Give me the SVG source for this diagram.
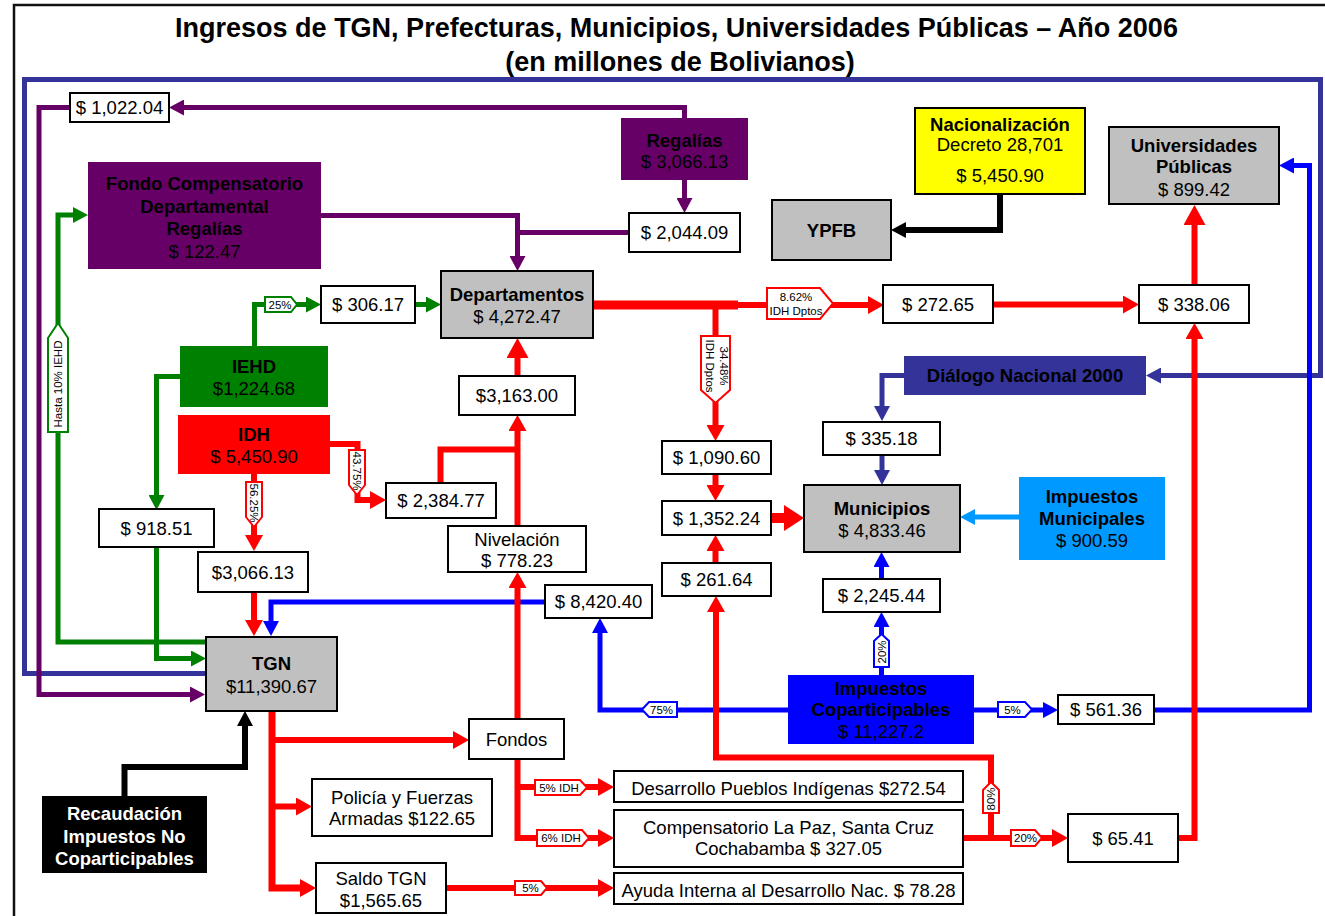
<svg xmlns="http://www.w3.org/2000/svg" width="1325" height="916" viewBox="0 0 1325 916">
  <style>
    .c { fill: none; stroke-width: 5; stroke-linejoin: miter; stroke-linecap: butt; }
    .red { stroke: #ff0000; stroke-width: 6; }
    .grn { stroke: #008000; }
    .pur { stroke: #660066; }
    .nav { stroke: #333399; }
    .blu { stroke: #0000ff; }
    .blk { stroke: #000000; stroke-width: 6; }
    .sky { stroke: #0099ff; }
    .bx { fill: #ffffff; stroke: #000000; stroke-width: 2; }
    .gray { fill: #c0c0c0; stroke: #000000; stroke-width: 2; }
    .t { font-family: "Liberation Sans", Arial, sans-serif; font-size: 18.5px; text-anchor: middle; fill: #000000; }
    .b { font-weight: bold; }
    .w { fill: #ffffff; }
    .tag { fill: #ffffff; stroke-width: 2; }
    .tr { stroke: #ff0000; }
    .tgg { stroke: #008000; }
    .tb { stroke: #0000ff; }
    .lt { font-family: "Liberation Sans", Arial, sans-serif; font-size: 11.5px; text-anchor: middle; fill: #000000; }
    .title { font-family: "Liberation Sans", Arial, sans-serif; font-size: 27px; font-weight: bold; text-anchor: middle; fill: #000000; }
  </style>
  <defs>
    <marker id="a-red" markerUnits="userSpaceOnUse" markerWidth="16" markerHeight="18" viewBox="0 0 16 18" refX="7" refY="9" orient="auto"><path d="M0,0 L16,9 L0,18 z" fill="#ff0000"/></marker>
    <marker id="a-red-lg" markerUnits="userSpaceOnUse" markerWidth="20" markerHeight="22" viewBox="0 0 20 22" refX="11" refY="11" orient="auto"><path d="M0,0 L20,11 L0,22 z" fill="#ff0000"/></marker>
    <marker id="a-red-xl" markerUnits="userSpaceOnUse" markerWidth="20" markerHeight="26" viewBox="0 0 20 26" refX="11" refY="13" orient="auto"><path d="M0,0 L20,13 L0,26 z" fill="#ff0000"/></marker>
    <marker id="a-grn" markerUnits="userSpaceOnUse" markerWidth="15" markerHeight="16" viewBox="0 0 15 16" refX="6" refY="8" orient="auto"><path d="M0,0 L15,8 L0,16 z" fill="#008000"/></marker>
    <marker id="a-pur" markerUnits="userSpaceOnUse" markerWidth="15" markerHeight="16" viewBox="0 0 15 16" refX="6" refY="8" orient="auto"><path d="M0,0 L15,8 L0,16 z" fill="#660066"/></marker>
    <marker id="a-nav" markerUnits="userSpaceOnUse" markerWidth="15" markerHeight="16" viewBox="0 0 15 16" refX="6" refY="8" orient="auto"><path d="M0,0 L15,8 L0,16 z" fill="#333399"/></marker>
    <marker id="a-blu" markerUnits="userSpaceOnUse" markerWidth="15" markerHeight="16" viewBox="0 0 15 16" refX="6" refY="8" orient="auto"><path d="M0,0 L15,8 L0,16 z" fill="#0000ff"/></marker>
    <marker id="a-blk" markerUnits="userSpaceOnUse" markerWidth="15" markerHeight="16" viewBox="0 0 15 16" refX="6" refY="8" orient="auto"><path d="M0,0 L15,8 L0,16 z" fill="#000000"/></marker>
    <marker id="a-sky" markerUnits="userSpaceOnUse" markerWidth="15" markerHeight="16" viewBox="0 0 15 16" refX="6" refY="8" orient="auto"><path d="M0,0 L15,8 L0,16 z" fill="#0099ff"/></marker>
  </defs>

  <rect width="1325" height="916" fill="#ffffff"/>
  <!-- outer frame -->
  <path d="M14,916 V5 H1325" fill="none" stroke="#111111" stroke-width="2.5"/>

  <!-- title -->
  <text class="title" x="676.5" y="37">Ingresos de TGN, Prefecturas, Municipios, Universidades Públicas – Año 2006</text>
  <text class="title" x="680" y="71">(en millones de Bolivianos)</text>

  <g id="connectors">
    <!-- Diálogo Nacional loop -->
    <path class="c nav" d="M206,673.5 H24.5 V79.5 H1320.5 V375.5 H1155" marker-end="url(#a-nav)"/>
    <path class="c nav" d="M904,375.5 H882 V412" marker-end="url(#a-nav)"/>
    <path class="c nav" d="M882,455 V476" marker-end="url(#a-nav)"/>

    <!-- Regalías -->
    <path class="c pur" d="M684.5,118 V107.5 H178" marker-end="url(#a-pur)"/>
    <path class="c pur" d="M70,107.5 H39 V694.5 H196" marker-end="url(#a-pur)"/>
    <path class="c pur" d="M684.5,180 V204" marker-end="url(#a-pur)"/>
    <path class="c pur" d="M629,232.5 H517.5"/>
    <path class="c pur" d="M321,215.5 H517.5 V262" marker-end="url(#a-pur)"/>

    <!-- IEHD -->
    <path class="c grn" d="M206,642 H58 V215 H79" marker-end="url(#a-grn)"/>
    <path class="c grn" d="M180,376.5 H156.5 V501" marker-end="url(#a-grn)"/>
    <path class="c grn" d="M156.5,547 V658.5 H197" marker-end="url(#a-grn)"/>
    <path class="c grn" d="M254.5,346 V304.5 H312" marker-end="url(#a-grn)"/>
    <path class="c grn" d="M415,304.5 H432" marker-end="url(#a-grn)"/>

    <!-- Coparticipación -->
    <path class="c blu" d="M545,602 H271 V627" marker-end="url(#a-blu)"/>
    <path class="c blu" d="M788,710 H600 V627" marker-end="url(#a-blu)"/>
    <path class="c blu" d="M881.5,675 V621" marker-end="url(#a-blu)"/>
    <path class="c blu" d="M881.5,579 V561" marker-end="url(#a-blu)"/>
    <path class="c blu" d="M974,710 H1049" marker-end="url(#a-blu)"/>
    <path class="c blu" d="M1154,710 H1309.5 V165.5 H1288" marker-end="url(#a-blu)"/>

    <!-- black flows -->
    <path class="c blk" d="M1000,194 V230 H900" marker-end="url(#a-blk)"/>
    <path class="c blk" d="M124.5,796 V767 H245 V720" marker-end="url(#a-blk)"/>

    <!-- Impuestos Municipales -->
    <path class="c sky" d="M1019,517 H969" marker-end="url(#a-sky)"/>

    <!-- IDH and red flows -->
    <path class="c red" d="M330,444 H357.5 V500 H377" marker-end="url(#a-red)"/>
    <path class="c red" d="M254,474 V542" marker-end="url(#a-red)"/>
    <path class="c red" d="M254,592 V627" marker-end="url(#a-red)"/>
    <path class="c red" d="M440.5,483 V449.5 H517.5"/>
    <path class="c red" d="M517.5,526 V424" marker-end="url(#a-red)"/>
    <path class="c red" d="M517.5,376 V347" marker-end="url(#a-red-lg)"/>
    <path class="c red" d="M517.5,719 V581" marker-end="url(#a-red)"/>
    <path class="c red" d="M593,305 H738" style="stroke-width:9"/>
    <path class="c red" d="M735,305 H875" marker-end="url(#a-red)"/>
    <path class="c red" d="M715.5,305 V432" marker-end="url(#a-red)"/>
    <path class="c red" d="M993,304.5 H1130" marker-end="url(#a-red)"/>
    <path class="c red" d="M1194.5,285 V214" marker-end="url(#a-red-lg)"/>
    <path class="c red" d="M715.5,474 V492" marker-end="url(#a-red)"/>
    <path class="c red" d="M715.5,563 V544" marker-end="url(#a-red)"/>
    <path class="c red" d="M771,518 H795" style="stroke-width:10" marker-end="url(#a-red-xl)"/>
    <path class="c red" d="M963,838 H1059" marker-end="url(#a-red)"/>
    <path class="c red" d="M991,838 V757.5 H716 V605" marker-end="url(#a-red)"/>
    <path class="c red" d="M1178,838 H1194.5 V332" marker-end="url(#a-red)"/>
    <path class="c red" d="M272,711 V888 H307" style="stroke-width:7" marker-end="url(#a-red)"/>
    <path class="c red" d="M272,740 H460" marker-end="url(#a-red)"/>
    <path class="c red" d="M272,806.5 H303" marker-end="url(#a-red)"/>
    <path class="c red" d="M517.5,759 V838 H605" marker-end="url(#a-red)"/>
    <path class="c red" d="M517.5,787 H605" marker-end="url(#a-red)"/>
    <path class="c red" d="M446,888 H605" marker-end="url(#a-red)"/>

    <!-- flow share tags -->
    <g id="tags">
      <polygon class="tag tr" points="767,288 820,288 833,303.5 820,319 767,319"/>
      <text class="lt" x="796" y="300.5">8.62%</text>
      <text class="lt" x="796" y="314.5">IDH Dptos</text>

      <polygon class="tag tr" points="701,336 730,336 730,390 715.5,403 701,390"/>
      <g transform="translate(715.5,366) rotate(90)">
        <text class="lt" x="0" y="-4">34.48%</text>
        <text class="lt" x="0" y="9.5">IDH Dptos</text>
      </g>

      <polygon class="tag tgg" points="265,297 291,297 297,304.5 291,312 265,312"/>
      <text class="lt" x="280" y="308.5">25%</text>

      <polygon class="tag tgg" points="48,338 58,323 68,338 68,432 48,432"/>
      <text class="lt" transform="translate(58,384) rotate(-90)" x="0" y="4">Hasta 10% IEHD</text>

      <polygon class="tag tr" points="349,450 365,450 365,485 357,495 349,485"/>
      <text class="lt" transform="translate(357,471) rotate(90)" x="0" y="4">43.75%</text>

      <polygon class="tag tr" points="246,482 262,482 262,517 254,527 246,517"/>
      <text class="lt" transform="translate(254,503) rotate(90)" x="0" y="4">56.25%</text>

      <polygon class="tag tr" points="535,780 580,780 587,787.5 580,795 535,795"/>
      <text class="lt" x="559" y="791.5">5% IDH</text>

      <polygon class="tag tr" points="537,830 582,830 589,838 582,846 537,846"/>
      <text class="lt" x="561" y="842">6% IDH</text>

      <polygon class="tag tr" points="515,881 541,881 547,888 541,895 515,895"/>
      <text class="lt" x="530.5" y="892">5%</text>

      <polygon class="tag tr" points="1011,830 1035,830 1042,838 1035,846 1011,846"/>
      <text class="lt" x="1025.5" y="842">20%</text>

      <polygon class="tag tr" points="983,790 991,782 999,790 999,813 983,813"/>
      <text class="lt" transform="translate(991,799) rotate(-90)" x="0" y="4">80%</text>

      <polygon class="tag tb" points="649,702 677,702 677,717 649,717 642,709.5"/>
      <text class="lt" x="661.5" y="714">75%</text>

      <polygon class="tag tb" points="874,641 881.5,634 889,641 889,667 874,667"/>
      <text class="lt" transform="translate(881.5,652) rotate(-90)" x="0" y="4">20%</text>

      <polygon class="tag tb" points="998,702 1025,702 1032,709.5 1025,717 998,717"/>
      <text class="lt" x="1012.5" y="714">5%</text>
    </g>
  </g>

  <!-- nodes -->
  <g id="fondo-compensatorio">
    <rect x="88" y="162" width="233" height="107" fill="#660066"/>
    <text class="t b" x="204.5" y="190">Fondo Compensatorio</text>
    <text class="t b" x="204.5" y="212.5">Departamental</text>
    <text class="t b" x="204.5" y="235">Regalías</text>
    <text class="t" x="204.5" y="257.5">$ 122.47</text>
  </g>
  <g id="regalias">
    <rect x="621" y="118" width="127" height="62" fill="#660066"/>
    <text class="t b" x="684.5" y="147">Regalías</text>
    <text class="t" x="684.5" y="168">$ 3,066.13</text>
  </g>
  <g id="v1022">
    <rect class="bx" x="70" y="93" width="99" height="29"/>
    <text class="t" x="119.5" y="114">$ 1,022.04</text>
  </g>
  <g id="v2044">
    <rect class="bx" x="629" y="213" width="111" height="39"/>
    <text class="t" x="684.5" y="239">$ 2,044.09</text>
  </g>
  <g id="ypfb">
    <rect class="gray" x="772" y="200" width="119" height="60"/>
    <text class="t b" x="831.5" y="236.5">YPFB</text>
  </g>
  <g id="nacionalizacion">
    <rect x="915" y="108" width="170" height="86" fill="#ffff00" stroke="#000000" stroke-width="2"/>
    <text class="t b" x="1000" y="131">Nacionalización</text>
    <text class="t" x="1000" y="151">Decreto 28,701</text>
    <text class="t" x="1000" y="182">$ 5,450.90</text>
  </g>
  <g id="universidades">
    <rect class="gray" x="1109" y="127" width="170" height="77"/>
    <text class="t b" x="1194" y="152">Universidades</text>
    <text class="t b" x="1194" y="173">Públicas</text>
    <text class="t" x="1194" y="196">$ 899.42</text>
  </g>
  <g id="departamentos">
    <rect class="gray" x="441" y="271" width="152" height="67"/>
    <text class="t b" x="517" y="301">Departamentos</text>
    <text class="t" x="517" y="323">$ 4,272.47</text>
  </g>
  <g id="v306">
    <rect class="bx" x="321" y="286" width="94" height="37"/>
    <text class="t" x="368" y="311">$ 306.17</text>
  </g>
  <g id="v272">
    <rect class="bx" x="883" y="285" width="110" height="38"/>
    <text class="t" x="938" y="310.5">$ 272.65</text>
  </g>
  <g id="v338">
    <rect class="bx" x="1139" y="285" width="110" height="38"/>
    <text class="t" x="1194" y="310.5">$ 338.06</text>
  </g>
  <g id="dialogo">
    <rect x="904" y="356" width="242" height="39" fill="#333399"/>
    <text class="t b" x="1025" y="382">Diálogo Nacional 2000</text>
  </g>
  <g id="v335">
    <rect class="bx" x="823" y="422" width="117" height="33"/>
    <text class="t" x="881.5" y="445">$ 335.18</text>
  </g>
  <g id="municipios">
    <rect class="gray" x="804" y="485" width="156" height="67"/>
    <text class="t b" x="882" y="514.5">Municipios</text>
    <text class="t" x="882" y="537">$ 4,833.46</text>
  </g>
  <g id="impuestos-municipales">
    <rect x="1019" y="477" width="146" height="83" fill="#0099ff"/>
    <text class="t b" x="1092" y="503">Impuestos</text>
    <text class="t b" x="1092" y="525">Municipales</text>
    <text class="t" x="1092" y="547">$ 900.59</text>
  </g>
  <g id="iehd">
    <rect x="180" y="346" width="148" height="61" fill="#008000"/>
    <text class="t b" x="254" y="373">IEHD</text>
    <text class="t" x="254" y="395">$1,224.68</text>
  </g>
  <g id="idh">
    <rect x="178" y="415" width="152" height="59" fill="#ff0000"/>
    <text class="t b" x="254" y="441">IDH</text>
    <text class="t" x="254" y="463">$ 5,450.90</text>
  </g>
  <g id="v918">
    <rect class="bx" x="99" y="509" width="115" height="38"/>
    <text class="t" x="156.5" y="534.5">$ 918.51</text>
  </g>
  <g id="v3066">
    <rect class="bx" x="198" y="552" width="110" height="40"/>
    <text class="t" x="253" y="578.5">$3,066.13</text>
  </g>
  <g id="v2384">
    <rect class="bx" x="386" y="483" width="110" height="35"/>
    <text class="t" x="441" y="507">$ 2,384.77</text>
  </g>
  <g id="v3163">
    <rect class="bx" x="459" y="376" width="116" height="39"/>
    <text class="t" x="517" y="402">$3,163.00</text>
  </g>
  <g id="nivelacion">
    <rect class="bx" x="448" y="526" width="138" height="46"/>
    <text class="t" x="517" y="546">Nivelación</text>
    <text class="t" x="517" y="567">$ 778.23</text>
  </g>
  <g id="v8420">
    <rect class="bx" x="545" y="585" width="107" height="33"/>
    <text class="t" x="598.5" y="608">$ 8,420.40</text>
  </g>
  <g id="v1090">
    <rect class="bx" x="662" y="441" width="109" height="33"/>
    <text class="t" x="716.5" y="464">$ 1,090.60</text>
  </g>
  <g id="v1352">
    <rect class="bx" x="662" y="501" width="109" height="34"/>
    <text class="t" x="716.5" y="524.5">$ 1,352.24</text>
  </g>
  <g id="v261">
    <rect class="bx" x="662" y="563" width="109" height="33"/>
    <text class="t" x="716.5" y="586">$ 261.64</text>
  </g>
  <g id="v2245">
    <rect class="bx" x="823" y="579" width="117" height="33"/>
    <text class="t" x="881.5" y="602">$ 2,245.44</text>
  </g>
  <g id="impuestos-coparticipables">
    <rect x="788" y="675" width="186" height="69" fill="#0000ff"/>
    <text class="t b" x="881" y="695">Impuestos</text>
    <text class="t b" x="881" y="716">Coparticipables</text>
    <text class="t" x="881" y="738">$ 11,227.2</text>
  </g>
  <g id="v561">
    <rect class="bx" x="1058" y="695" width="96" height="29"/>
    <text class="t" x="1106" y="716">$ 561.36</text>
  </g>
  <g id="tgn">
    <rect class="gray" x="206" y="637" width="131" height="74"/>
    <text class="t b" x="271.5" y="670">TGN</text>
    <text class="t" x="271.5" y="693">$11,390.67</text>
  </g>
  <g id="recaudacion">
    <rect x="42" y="796" width="165" height="77" fill="#000000"/>
    <text class="t b w" x="124.5" y="820">Recaudación</text>
    <text class="t b w" x="124.5" y="843">Impuestos No</text>
    <text class="t b w" x="124.5" y="865">Coparticipables</text>
  </g>
  <g id="fondos">
    <rect class="bx" x="469" y="719" width="95" height="40"/>
    <text class="t" x="516.5" y="746">Fondos</text>
  </g>
  <g id="policia">
    <rect class="bx" x="312" y="779" width="180" height="57"/>
    <text class="t" x="402" y="804">Policía y Fuerzas</text>
    <text class="t" x="402" y="825">Armadas $122.65</text>
  </g>
  <g id="saldo-tgn">
    <rect class="bx" x="316" y="863" width="130" height="50"/>
    <text class="t" x="381" y="885">Saldo TGN</text>
    <text class="t" x="381" y="907">$1,565.65</text>
  </g>
  <g id="pueblos-indigenas">
    <rect class="bx" x="614" y="771" width="349" height="31"/>
    <text class="t" x="788.5" y="795">Desarrollo Pueblos Indígenas $272.54</text>
  </g>
  <g id="compensatorio">
    <rect class="bx" x="614" y="810" width="349" height="57"/>
    <text class="t" x="788.5" y="834">Compensatorio La Paz, Santa Cruz</text>
    <text class="t" x="788.5" y="855">Cochabamba $ 327.05</text>
  </g>
  <g id="ayuda-interna">
    <rect class="bx" x="614" y="873" width="349" height="31"/>
    <text class="t" x="788.5" y="897">Ayuda Interna al Desarrollo Nac. $ 78.28</text>
  </g>
  <g id="v6541">
    <rect class="bx" x="1068" y="814" width="110" height="48"/>
    <text class="t" x="1123" y="844.5">$ 65.41</text>
  </g>
</svg>
